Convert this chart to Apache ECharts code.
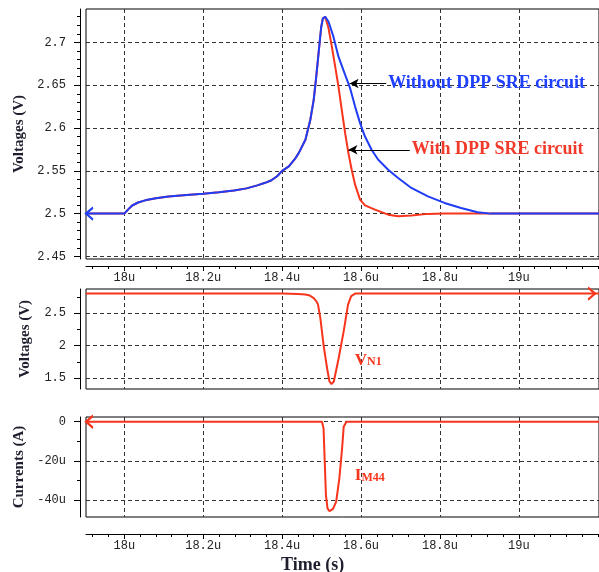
<!DOCTYPE html>
<html><head><meta charset="utf-8">
<script src="https://cdn.jsdelivr.net/npm/echarts@6/dist/echarts.min.js"></script>
<style>html,body{margin:0;padding:0;background:#fff}#c{width:599px;height:572px}</style>
</head><body><div id="c"></div>
<script>
// ---- axes (time in microseconds) ----
const timeTicks = [18, 18.2, 18.4, 18.6, 18.8, 19];
const timeTickLabels = ['18u', '18.2u', '18.4u', '18.6u', '18.8u', '19u'];
const v1Ticks = [2.45, 2.5, 2.55, 2.6, 2.65, 2.7];
const v1TickLabels = ['2.45', '2.5', '2.55', '2.6', '2.65', '2.7'];
const v2Ticks = [1.5, 2, 2.5];
const v2TickLabels = ['1.5', '2', '2.5'];
const iTicks = [-40, -20, 0];
const iTickLabels = ['-40u', '-20u', '0'];

// ---- series values [time (u), value] ----
const riseCommon = [[17.903,2.5],[18.0,2.5],[18.01,2.505],[18.02,2.5095],[18.035,2.513],[18.053,2.5155],[18.08,2.518],[18.112,2.52],[18.15,2.5215],[18.2,2.5233],[18.24,2.525],[18.278,2.527],[18.31,2.5295],[18.337,2.533],[18.357,2.536],[18.373,2.539],[18.388,2.544],[18.4,2.55],[18.417,2.5551],[18.432,2.5636],[18.442,2.5707],[18.459,2.5862],[18.4715,2.6096],[18.48,2.6329],[18.4856,2.6562],[18.4907,2.6795],[18.4957,2.7028],[18.4992,2.7183],[18.5033,2.7281],[18.5093,2.73]];
const fallWithout = [[18.5176,2.7241],[18.530,2.7067],[18.5428,2.6833],[18.5597,2.662],[18.5723,2.6465],[18.5849,2.625],[18.5975,2.6057],[18.610,2.590],[18.6267,2.5746],[18.6436,2.5629],[18.6688,2.5513],[18.694,2.5416],[18.7275,2.530],[18.7695,2.5202],[18.8116,2.5125],[18.8534,2.5066],[18.8955,2.5015],[18.929,2.5],[19.203,2.5]];
const fallWith = [[18.5176,2.7164],[18.526,2.695],[18.5345,2.6717],[18.5428,2.6484],[18.5511,2.6212],[18.5597,2.594],[18.568,2.5707],[18.5763,2.5513],[18.5849,2.5338],[18.5975,2.5163],[18.610,2.5097],[18.6353,2.5047],[18.6688,2.4988],[18.694,2.4969],[18.7275,2.4977],[18.7695,2.4997],[18.81,2.5],[18.8955,2.5],[19.203,2.5]];
const vn1 = [[17.903,2.8],[18.4,2.8],[18.44,2.795],[18.459,2.785],[18.47,2.77],[18.48,2.73],[18.487,2.68],[18.491,2.63],[18.497,2.42],[18.505,2.01],[18.514,1.65],[18.52,1.45],[18.525,1.41],[18.531,1.45],[18.543,1.80],[18.556,2.22],[18.567,2.63],[18.575,2.76],[18.585,2.8],[19.203,2.8]];
const im44 = [[17.903,0],[18.501,0],[18.505,-3.4],[18.508,-20.4],[18.511,-37.4],[18.515,-44.2],[18.52,-45.6],[18.529,-44.5],[18.537,-40.8],[18.545,-28.9],[18.552,-13.6],[18.556,-2.6],[18.563,0],[19.203,0]];

const BLUE = '#1f3df5', RED = '#f7341c';
const tickFont = {fontFamily: 'Liberation Mono', fontSize: 12, color: '#222'};
const serif = 'Liberation Serif';

function steps(a, b, s) { const r = []; for (let k = 0; a + k * s <= b + 1e-9; k++) r.push(+(a + k * s).toFixed(4)); return r; }
function fmt(ticks, labels) { return v => { const i = ticks.findIndex(t => Math.abs(t - v) < 1e-6); return i < 0 ? '' : labels[i]; }; }
const dashed = {show: true, lineStyle: {color: '#333', width: 1, type: [4, 3]}};

function xMajor(grid, showLabels, offset) {
  return {type: 'value', gridIndex: grid, min: 17.903, max: 19.203, position: 'bottom', offset: offset,
    axisLine: {show: showLabels, onZero: false, lineStyle: {color: '#000'}},
    axisTick: {show: showLabels, customValues: timeTicks, length: 5, lineStyle: {color: '#000'}},
    axisLabel: {show: showLabels, customValues: timeTicks, formatter: fmt(timeTicks, timeTickLabels), margin: 6, ...tickFont},
    splitLine: dashed};
}
function xMinor(grid, show, offset) {
  return {type: 'value', gridIndex: grid, min: 17.903, max: 19.203, position: 'bottom', offset: offset,
    axisLine: {show: false, onZero: false}, axisLabel: {show: false}, splitLine: {show: false},
    axisTick: {show: show, customValues: steps(17.92, 19.2, 0.04), length: 3, lineStyle: {color: '#000'}}};
}
function yMajor(grid, min, max, ticks, labels, name) {
  return {type: 'value', gridIndex: grid, min: min, max: max, position: 'left', offset: 6,
    name: name, nameLocation: 'middle', nameRotate: 90, nameGap: 47,
    nameTextStyle: {fontFamily: serif, fontWeight: 'bold', fontSize: 15, color: '#1e1e2e'},
    axisLine: {show: true, onZero: false, lineStyle: {color: '#000'}},
    axisTick: {show: true, customValues: ticks, length: 6, lineStyle: {color: '#000'}},
    axisLabel: {customValues: ticks, formatter: fmt(ticks, labels), margin: 14, ...tickFont},
    splitLine: dashed};
}
function yMinor(grid, min, max, minor) {
  return {type: 'value', gridIndex: grid, min: min, max: max, position: 'left', offset: 6,
    axisLine: {show: false, onZero: false}, axisLabel: {show: false}, splitLine: {show: false},
    axisTick: {show: true, customValues: minor, length: 3, lineStyle: {color: '#000'}}};
}
const arrowL = 'path://M10,0 L0,6 L10,12';
const arrowR = 'path://M0,0 L10,6 L0,12';
function endArrow(coord, path, color, dx) {
  return {coord: coord, symbol: path, symbolSize: [7, 12], symbolOffset: [dx, 0],
    itemStyle: {color: 'none', borderColor: color, borderWidth: 2}, label: {show: false}};
}
function annot(from, to, text, color) {
  return {silent: true, animation: false, symbol: ['arrow', 'none'], symbolSize: [7, 9],
    lineStyle: {color: '#000', width: 1, type: 'solid'},
    label: {show: true, position: 'end', distance: 2, formatter: text, color: color, fontFamily: serif, fontWeight: 'bold', fontSize: 18},
    emphasis: {disabled: true},
    data: [[{coord: from}, {coord: to}]]};
}
function textMark(coord, rich, text) {
  return {coord: coord, symbol: 'circle', symbolSize: 1, itemStyle: {color: 'rgba(0,0,0,0)'},
    label: {show: true, position: 'right', distance: 0, formatter: text, rich: rich}};
}
const subRich = {
  m: {fontFamily: serif, fontWeight: 'bold', fontSize: 17, color: RED, verticalAlign: 'bottom'},
  s: {fontFamily: serif, fontWeight: 'bold', fontSize: 12, color: RED, verticalAlign: 'bottom', padding: [0, 0, 1, 0]}
};

const chart = echarts.init(document.getElementById('c'), null, {renderer: 'canvas'});
chart.setOption({
  animation: false,
  backgroundColor: '#fff',
  title: {text: 'Time (s)', left: 276, top: 551, textStyle: {fontFamily: serif, fontWeight: 'bold', fontSize: 18, color: '#1e1e2e'}},
  grid: [
    {left: 86, top: 9, width: 516, height: 250, show: true, borderColor: '#000', borderWidth: 1},
    {left: 86, top: 289, width: 516, height: 100, show: true, borderColor: '#000', borderWidth: 1},
    {left: 86, top: 417, width: 516, height: 100, show: true, borderColor: '#000', borderWidth: 1}
  ],
  xAxis: [xMajor(0, true, 7), xMinor(0, true, 7), xMajor(1, false, 0), xMinor(1, false, 0), xMajor(2, true, 17), xMinor(2, true, 17)],
  yAxis: [
    yMajor(0, 2.447, 2.739, v1Ticks, v1TickLabels, 'Voltages (V)'), yMinor(0, 2.447, 2.739, steps(2.45, 2.73, 0.01)),
    yMajor(1, 1.335, 2.87, v2Ticks, v2TickLabels, 'Voltages (V)'), yMinor(1, 1.335, 2.87, steps(1.5, 2.75, 0.25)),
    yMajor(2, -48.6, 2.4, iTicks, iTickLabels, 'Currents (A)'), yMinor(2, -48.6, 2.4, steps(-40, 0, 10))
  ],
  series: [
    {name: 'With DPP SRE circuit', type: 'line', xAxisIndex: 0, yAxisIndex: 0, symbol: 'none', smooth: false,
      lineStyle: {color: RED, width: 2}, itemStyle: {color: RED}, data: riseCommon.concat(fallWith),
      markLine: annot([18.568, 2.5746], [18.7235, 2.5746], 'With DPP SRE circuit', '#f23a2a')},
    {name: 'Without DPP SRE circuit', type: 'line', xAxisIndex: 0, yAxisIndex: 0, symbol: 'none',
      lineStyle: {color: BLUE, width: 2}, itemStyle: {color: BLUE}, data: riseCommon.concat(fallWithout),
      markLine: annot([18.571, 2.652], [18.6637, 2.652], 'Without DPP SRE circuit', '#2040ff'),
      markPoint: {silent: true, animation: false, data: [endArrow([17.903, 2.5], arrowL, BLUE, 3.5)]}},
    {name: 'VN1', type: 'line', xAxisIndex: 2, yAxisIndex: 2, symbol: 'none',
      lineStyle: {color: RED, width: 2}, itemStyle: {color: RED}, data: vn1,
      markPoint: {silent: true, animation: false, data: [endArrow([19.193, 2.8], arrowR, RED, -3.5), textMark([18.583, 1.774], subRich, '{m|V}{s|N1}')]}},
    {name: 'IM44', type: 'line', xAxisIndex: 4, yAxisIndex: 4, symbol: 'none',
      lineStyle: {color: RED, width: 2}, itemStyle: {color: RED}, data: im44,
      markPoint: {silent: true, animation: false, data: [endArrow([17.903, 0], arrowL, RED, 3.5), textMark([18.583, -27.7], subRich, '{m|I}{s|M44}')]}}
  ]
});
</script></body></html>
